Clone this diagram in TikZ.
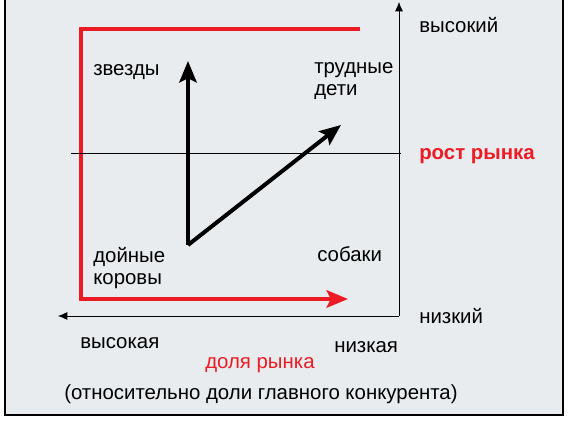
\documentclass[tikz,border=0pt]{standalone}
\usepackage{fontspec}
\setmainfont{Liberation Sans}
\usetikzlibrary{arrows.meta}
\definecolor{bgGrey}{RGB}{232,236,239}
\definecolor{bcgRed}{RGB}{237,28,36}

\begin{document}
\begin{tikzpicture}[x=0.75pt,y=0.75pt,yscale=-1,xscale=1,
    lbl/.style={anchor=west,inner sep=0pt,font=\fontsize{15.3}{16.5}\selectfont,align=left},
    axis/.style={draw=black,line width=0.6pt,-{Latex[length=7pt,width=6pt]}},
    move/.style={draw=black,line width=3pt,-{Stealth[length=16pt,width=13pt,inset=3pt]}},
    share/.style={draw=bcgRed,line width=3pt}]
\useasboundingbox (0,0) rectangle (572,424);
% frame
\fill[bgGrey] (5,0) rectangle (563,415);
\draw[line width=1.2pt] (5,0) -- (5,415) -- (563,415) -- (563,0);
% coordinates
\coordinate (origin) at (399,316);
\coordinate (yTop) at (399,2);
\coordinate (xEnd) at (58,316);
\coordinate (midL) at (71,153);
\coordinate (midR) at (401,153);
\coordinate (rEnd) at (360,29);
\coordinate (rTop) at (81,29);
\coordinate (rLow) at (81,299);
\coordinate (rTip) at (348,299);
\coordinate (cow) at (188,245);
\coordinate (starTip) at (188,61);
\coordinate (childTip) at (341,125);
% red line
\draw[share] (rEnd) -- (rTop) -- (rLow) -- ([xshift=-12pt]rTip);
\draw[share,-{Stealth[length=16pt,width=13pt,inset=3pt]}] (rLow) -- (rTip);
% axes
\draw[line width=0.6pt] (midL) -- (midR);
\draw[axis] (origin) -- (yTop);
\draw[axis] (origin) -- (xEnd);
% moves
\draw[move] (cow) -- (starTip);
\draw[move] (cow) -- (childTip);
% labels
\node (stars) [lbl] at (93,72) {звезды};
\node (problem) [lbl] at (314,81) {трудные\\дети};
\node (cows) [lbl] at (93,268) {дойные\\коровы};
\node (dogs) [lbl] at (317,254) {собаки};
\node (high) [lbl] at (419,25) {высокий};
\node (growth) [lbl,text=bcgRed,font=\fontsize{15.3}{16.5}\selectfont\bfseries] at (419,156) {рост рынка};
\node (low) [lbl] at (419,316) {низкий};
\node (highShare) [lbl] at (80,343) {высокая};
\node (lowShare) [lbl] at (334,347) {низкая};
\node (shareTitle) [lbl,text=bcgRed] at (205,365) {доля рынка};
\node (note) [lbl] at (64,394) {(относительно доли главного конкурента)};
\end{tikzpicture}
\end{document}
